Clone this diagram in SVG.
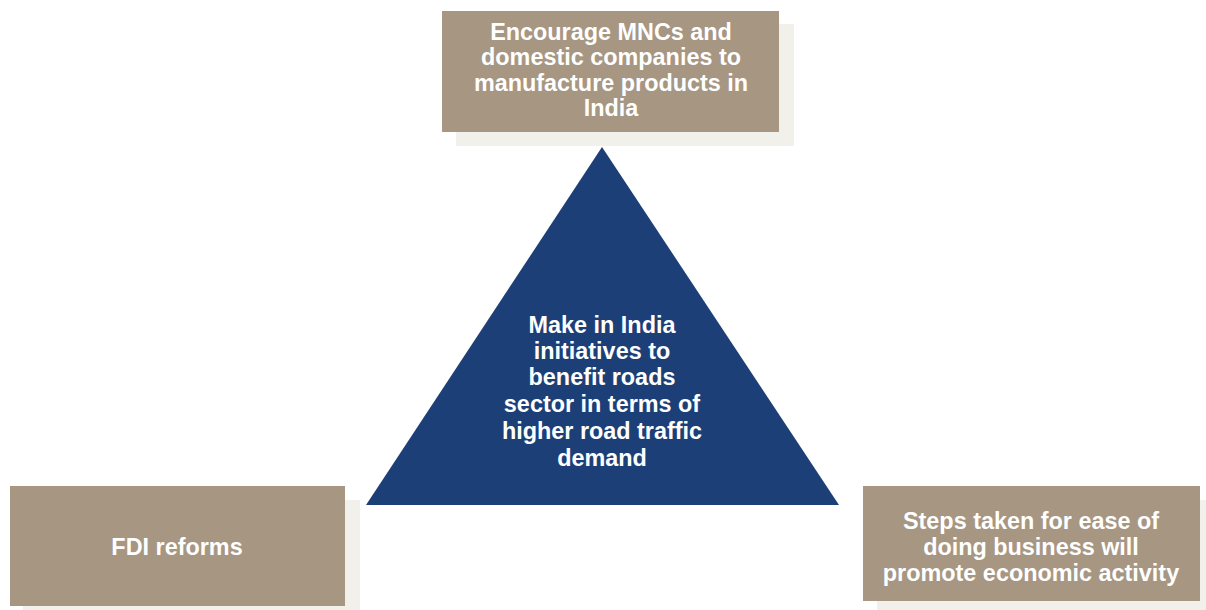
<svg xmlns="http://www.w3.org/2000/svg" width="1206" height="610" viewBox="0 0 1206 610">
<style>
.shadow{fill:#F2F0EB}
.box{fill:#A69682}
.tri{fill:#1C3F77}
text{font-family:"Liberation Sans",Arial,sans-serif;font-weight:bold;font-size:23.4px;fill:#FFFFFF;text-anchor:middle}
</style>
<rect width="1206" height="610" fill="#FFFFFF"/>
<g id="connectors"></g>
<g id="node-top">
<rect class="shadow" x="456" y="24" width="338" height="122"/>
<rect class="box" x="442" y="11" width="337" height="121"/>
<text x="611" y="40">Encourage MNCs and</text>
<text x="611" y="65">domestic companies to</text>
<text x="611" y="91">manufacture products in</text>
<text x="611" y="116">India</text>
</g>
<g id="node-center">
<polygon class="tri" points="602,147 839,505 366,505"/>
<text x="602" y="333">Make in India</text>
<text x="602" y="359">initiatives to</text>
<text x="602" y="385">benefit roads</text>
<text x="602" y="412">sector in terms of</text>
<text x="602" y="439">higher road traffic</text>
<text x="602" y="466">demand</text>
</g>
<g id="node-left">
<rect class="shadow" x="23" y="500" width="337" height="120"/>
<rect class="box" x="10" y="486" width="335" height="120"/>
<text x="177" y="555">FDI reforms</text>
</g>
<g id="node-right">
<rect class="shadow" x="877" y="500" width="340" height="120"/>
<rect class="box" x="863" y="486" width="337" height="115"/>
<text x="1031" y="529">Steps taken for ease of</text>
<text x="1031" y="555">doing business will</text>
<text x="1031" y="581">promote economic activity</text>
</g>
</svg>
